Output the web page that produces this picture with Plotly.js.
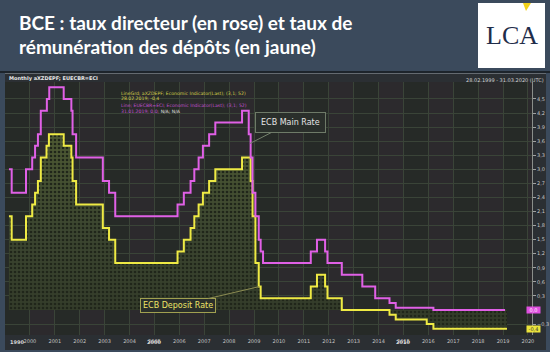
<!DOCTYPE html>
<html>
<head>
<meta charset="utf-8">
<script src="https://cdn.plot.ly/plotly-3.0.1.min.js"></script>
<style>
html,body{margin:0;padding:0;background:#3b4a5c;}
#chart{width:550px;height:352px;}
</style>
</head>
<body>
<div id="chart"></div>
<script>
// ECB main refinancing rate (pink) : dates of changes and levels (%)
const mainDates = ['1999-02-28','1999-04-09','1999-11-05','2000-02-04','2000-03-17','2000-04-28','2000-06-09','2000-09-06','2000-10-11','2001-05-11','2001-08-31','2001-09-18','2001-11-09','2002-12-06','2003-03-07','2003-06-06','2005-12-06','2006-03-08','2006-06-15','2006-08-09','2006-10-11','2006-12-13','2007-03-14','2007-06-13','2008-07-09','2008-10-15','2008-11-12','2008-12-10','2009-01-21','2009-03-11','2009-04-08','2009-05-13','2011-04-13','2011-07-13','2011-11-09','2011-12-14','2012-07-11','2013-05-08','2013-11-13','2014-06-11','2014-09-10','2016-03-16','2019-01-31'];
const mainRates = [3.0,2.5,3.0,3.25,3.5,3.75,4.25,4.5,4.75,4.5,4.25,3.75,3.25,2.75,2.5,2.0,2.25,2.5,2.75,3.0,3.25,3.5,3.75,4.0,4.25,3.75,3.25,2.5,2.0,1.5,1.25,1.0,1.25,1.5,1.25,1.0,0.75,0.5,0.25,0.15,0.05,0.0,0.0];

// ECB deposit facility rate (yellow)
const depoDates = ['1999-02-28','1999-04-09','1999-11-05','2000-02-04','2000-03-17','2000-04-28','2000-06-09','2000-09-01','2000-10-06','2001-05-11','2001-08-31','2001-09-18','2001-11-09','2002-12-06','2003-03-07','2003-06-06','2005-12-06','2006-03-08','2006-06-15','2006-08-09','2006-10-11','2006-12-13','2007-03-14','2007-06-13','2008-07-09','2008-11-12','2008-12-10','2009-01-21','2009-03-11','2009-04-08','2011-04-13','2011-07-13','2011-11-09','2011-12-14','2012-07-11','2014-06-11','2014-09-10','2015-12-09','2016-03-16','2019-02-28'];
const depoRates = [2.0,1.5,2.0,2.25,2.5,2.75,3.25,3.5,3.75,3.5,3.25,2.75,2.25,1.75,1.5,1.0,1.25,1.5,1.75,2.0,2.25,2.5,2.75,3.0,3.25,2.75,2.0,1.0,0.5,0.25,0.5,0.75,0.5,0.25,0.0,-0.1,-0.2,-0.3,-0.4,-0.4];

// axis ticks
const yTicks = [-0.3,0.3,0.6,0.9,1.2,1.5,1.8,2.1,2.4,2.7,3.0,3.3,3.6,3.9,4.2,4.5];
const xYears = ['2000','2001','2002','2003','2004','2005','2006','2007','2008','2009','2010','2011','2012','2013','2014','2015','2016','2017','2018','2019','2020'];
const decadeLabels = ['1990','2000','2010'];
const decadePos = ['1999-07-01','2005-01-01','2015-01-01'];

const W=550,H=352,M={l:5,r:18,t:82,b:17};
const pw=W-M.l-M.r, ph=H-M.t-M.b;
const px=x=>(x-M.l)/pw, py=y=>(H-M.b-y)/ph;

const traces = [
  {x:depoDates,y:depoRates,type:'scatter',mode:'lines',line:{shape:'hv',width:0,color:'rgba(0,0,0,0)'},
   fill:'tozeroy',fillcolor:'#3c472c',
   fillgradient:{type:'vertical',colorscale:[[0,'#323a28'],[0.5,'#3c4630'],[1,'#4e5a32']]},hoverinfo:'skip'},
  {x:depoDates,y:depoRates,type:'scatter',mode:'lines',line:{shape:'hv',color:'#eeea44',width:2},
   fill:'tozeroy',fillcolor:'rgba(0,0,0,0)',
   fillpattern:{shape:'.',bgcolor:'rgba(0,0,0,0)',fgcolor:'#20261a',size:4,solidity:0.35},hoverinfo:'skip'},
  {x:mainDates,y:mainRates,type:'scatter',mode:'lines',line:{shape:'hv',color:'#e060e6',width:2},hoverinfo:'skip'}
];

const shapes = [];
// alternate year shading
for (let yr=1999; yr<=2020; yr++) {
  if (yr%2===0) shapes.push({type:'rect',xref:'x',yref:'paper',x0:yr+'-01-01',x1:(yr+1)+'-01-01',y0:0,y1:1,
    fillcolor:'rgba(70,45,80,0.18)',line:{width:0},layer:'below'});
}
const rectPx=(x0,y0,x1,y1,fill,layer)=>({type:'rect',xref:'paper',yref:'paper',x0:px(x0),x1:px(x1),y0:py(y1),y1:py(y0),fillcolor:fill,line:{width:0},layer:layer||'below'});
shapes.push(rectPx(5,73,546,82,'#2b2f33'));
shapes.push(rectPx(532,82,546,335,'#2b2f33'));
shapes.push(rectPx(5,335,546,350,'#2b2f33'));
shapes.push({type:'line',xref:'paper',yref:'paper',x0:px(0),x1:px(550),y0:py(72),y1:py(72),line:{color:'#15181b',width:1.5}});
shapes.push({type:'line',xref:'paper',yref:'paper',x0:px(5),x1:px(546),y0:py(73.5),y1:py(73.5),line:{color:'#646a70',width:1}});
shapes.push(rectPx(478,3,545,68,'#ffffff','above'));
shapes.push({type:'path',xref:'paper',yref:'paper',layer:'above',
  path:`M ${px(523)} ${py(3)} L ${px(531)} ${py(3)} L ${px(526)} ${py(11)} Z`,fillcolor:'#f2d21a',line:{width:0}});

const ann = [];
const txt=(x,y,t,size,color,opts)=>Object.assign({xref:'paper',yref:'paper',x:px(x),y:py(y),text:t,showarrow:false,
  xanchor:'left',yanchor:'middle',font:{family:'DejaVu Sans',size:size,color:color}},opts||{});
const titleFont={family:'Lato',size:19,color:'#ffffff',weight:700};
ann.push(txt(17,22,'BCE : taux directeur (en rose) et taux de',19,'#ffffff',{font:titleFont}));
ann.push(txt(17,47,'rémunération des dépôts (en jaune)',19,'#ffffff',{font:titleFont}));
ann.push(txt(511.5,36,'LCA',26,'#1f2d4a',{xanchor:'center',font:{family:'Liberation Serif',size:26,color:'#1f2d4a'}}));
ann.push(txt(7,78.5,'<b>Monthly aXZDEPF; EUECBR=ECI</b>',5,'#e8e8e8'));
ann.push(txt(546,79.5,'28.02.1999 - 31.03.2020 (UTC)',5,'#d0d0d0',{xanchor:'right'}));
ann.push(txt(119,93,'LineGrd; aXZDEPF; Economic Indicator(Last); (3,1; 52)',4.6,'#d6d24a'));
ann.push(txt(119,99,'28.02.2019; -0,4',4.6,'#d6d24a'));
ann.push(txt(119,105,'Line; EUECBR=ECI; Economic Indicator(Last); (3,1; 52)',4.6,'#c250d0'));
ann.push(txt(119,111,'31.01.2019; 0,0; <span style="color:#e0e0e0">N/A; N/A</span>',4.6,'#c250d0'));
// series callouts
ann.push({x:'2008-11-01',y:3.55,xref:'x',yref:'y',text:'ECB Main Rate',showarrow:true,arrowhead:0,arrowwidth:1,arrowcolor:'#74806c',
  ax:41,ay:-21,bgcolor:'#2a2f2b',bordercolor:'#6e7a68',borderwidth:1,borderpad:5,font:{family:'DejaVu Sans',size:8,color:'#e4e4e4'}});
ann.push({x:'2009-03-20',y:0.5,xref:'x',yref:'y',text:'ECB Deposit Rate',showarrow:true,arrowhead:0,arrowwidth:1,arrowcolor:'#8c8c52',
  ax:-81,ay:19,bgcolor:'#2a2f2b',bordercolor:'#a0a050',borderwidth:1,borderpad:2,font:{family:'DejaVu Sans',size:8,color:'#ece466'}});
// last value labels
ann.push({xref:'paper',yref:'y',x:px(540.5),y:mainRates[mainRates.length-1],text:'0,0',showarrow:false,bgcolor:'#e050e0',
  width:13,height:6,borderpad:0,font:{family:'DejaVu Sans',size:5,color:'#ffffff'}});
ann.push({xref:'paper',yref:'y',x:px(540.5),y:depoRates[depoRates.length-1],text:'-0,4',showarrow:false,bgcolor:'#ebe43c',
  width:13,height:6,borderpad:0,font:{family:'DejaVu Sans',size:5,color:'#333333'}});
// decade labels
decadeLabels.forEach((d,i)=>ann.push({xref:'x',yref:'paper',x:decadePos[i],y:py(347),text:'<b>'+d+'</b>',showarrow:false,
  font:{family:'DejaVu Sans',size:5,color:'#d8d8d8'}}));

const layout = {
  width:W,height:H,margin:M,
  paper_bgcolor:'#3b4a5c',plot_bgcolor:'#262a27',
  separators:', ',
  showlegend:false,
  xaxis:{type:'date',range:['1999-01-01','2020-03-01'],tickvals:xYears.map(y=>y+'-01-01'),ticktext:xYears,
    showgrid:true,gridcolor:'#3a4438',gridwidth:1,zeroline:false,showline:false,ticks:'',
    tickfont:{family:'DejaVu Sans',size:5,color:'#c4c4c4'},ticklabelstandoff:2,fixedrange:true},
  yaxis:{side:'right',range:[-0.533,4.862],tickvals:yTicks,tickformat:'.1f',
    showgrid:true,gridcolor:'#3a4438',gridwidth:1,zeroline:false,showline:true,linecolor:'#8a8e8a',linewidth:1,
    ticks:'outside',ticklen:3,tickcolor:'#a0a0a0',tickfont:{family:'DejaVu Sans',size:5,color:'#c8c8c8'},fixedrange:true},
  shapes:shapes,annotations:ann
};
Plotly.newPlot('chart',traces,layout,{staticPlot:true,displayModeBar:false});
</script>
</body>
</html>
